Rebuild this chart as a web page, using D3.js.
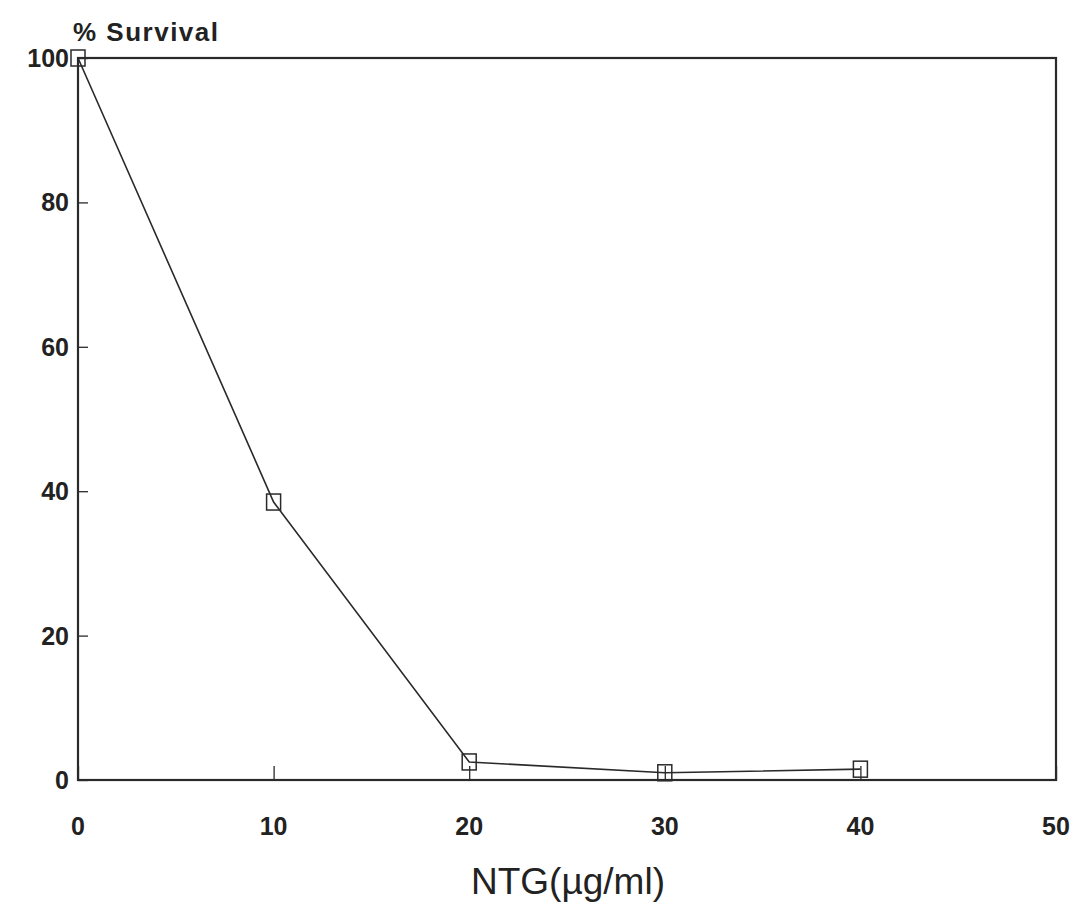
<!DOCTYPE html>
<html>
<head>
<meta charset="utf-8">
<script src="https://cdn.jsdelivr.net/npm/d3@7"></script>
<style>
  body { margin: 0; background: #fff; }
  text { font-family: "Liberation Sans", Arial, sans-serif; fill: #222; }
</style>
</head>
<body>
<div id="chart"></div>
<script>
// NTG dose (ug/ml) vs % survival
const doses = [0, 10, 20, 30, 40];
const survival = [100, 38.5, 2.5, 1, 1.5];
const xTicks = [0, 10, 20, 30, 40, 50];
const yTicks = [0, 20, 40, 60, 80, 100];

const width = 1081,
  height = 904,
  plotLeft = 78,
  plotRight = 1056,
  plotTop = 58,
  plotBottom = 780;

const x = d3.scaleLinear().domain([0, 50]).range([plotLeft, plotRight]);
const y = d3.scaleLinear().domain([0, 100]).range([plotBottom, plotTop]);

const svg = d3
  .select("#chart")
  .append("svg")
  .attr("width", width)
  .attr("height", height)
  .style("background", "#fff");

// frame
svg.append("rect")
  .attr("x", plotLeft)
  .attr("y", plotTop)
  .attr("width", plotRight - plotLeft)
  .attr("height", plotBottom - plotTop)
  .style("fill", "none")
  .style("stroke", "#2a2a2a")
  .style("stroke-width", 2.2);

// y axis, ticks pointing inward
const yAxis = svg.append("g")
  .attr("transform", `translate(${plotLeft},0)`)
  .call(d3.axisRight(y).tickValues(yTicks).tickSize(10).tickFormat(""));
yAxis.select(".domain").remove();
yAxis.selectAll("line").style("stroke", "#2a2a2a").style("stroke-width", 1.3);

yAxis.selectAll(".ylab")
  .data(yTicks)
  .enter()
  .append("text")
  .attr("class", "ylab")
  .attr("x", -9)
  .attr("y", d => y(d))
  .attr("dy", "0.36em")
  .attr("text-anchor", "end")
  .style("font-size", "25px")
  .style("font-weight", "bold")
  .text(d => d);

// x axis, ticks pointing up
const xAxis = svg.append("g")
  .attr("transform", `translate(0,${plotBottom})`)
  .call(d3.axisTop(x).tickValues(xTicks).tickSize(14).tickFormat(""));
xAxis.select(".domain").remove();
xAxis.selectAll("line").style("stroke", "#2a2a2a").style("stroke-width", 1.3);

xAxis.selectAll(".xlab")
  .data(xTicks)
  .enter()
  .append("text")
  .attr("class", "xlab")
  .attr("x", d => x(d))
  .attr("y", 55)
  .attr("text-anchor", "middle")
  .style("font-size", "25px")
  .style("font-weight", "bold")
  .text(d => d);

// titles
svg.append("text")
  .attr("x", 73)
  .attr("y", 41)
  .style("font-size", "26px")
  .style("font-weight", "bold")
  .style("letter-spacing", "1.5px")
  .text("% Survival");

svg.append("text")
  .attr("x", 568)
  .attr("y", 894)
  .attr("text-anchor", "middle")
  .style("font-size", "37px")
  .text("NTG(\u00b5g/ml)");

// data line
const pts = doses.map((d, i) => [d, survival[i]]);
svg.append("path")
  .datum(pts)
  .attr("d", d3.line().x(d => x(d[0])).y(d => y(d[1])))
  .style("fill", "none")
  .style("stroke", "#2a2a2a")
  .style("stroke-width", 1.6);

// square markers
svg.selectAll(".mark")
  .data(pts)
  .enter()
  .append("rect")
  .attr("class", "mark")
  .attr("x", d => x(d[0]) - 7)
  .attr("y", d => y(d[1]) - 8)
  .attr("width", 14)
  .attr("height", 16)
  .style("fill", "none")
  .style("stroke", "#2a2a2a")
  .style("stroke-width", 1.5);
</script>
</body>
</html>
